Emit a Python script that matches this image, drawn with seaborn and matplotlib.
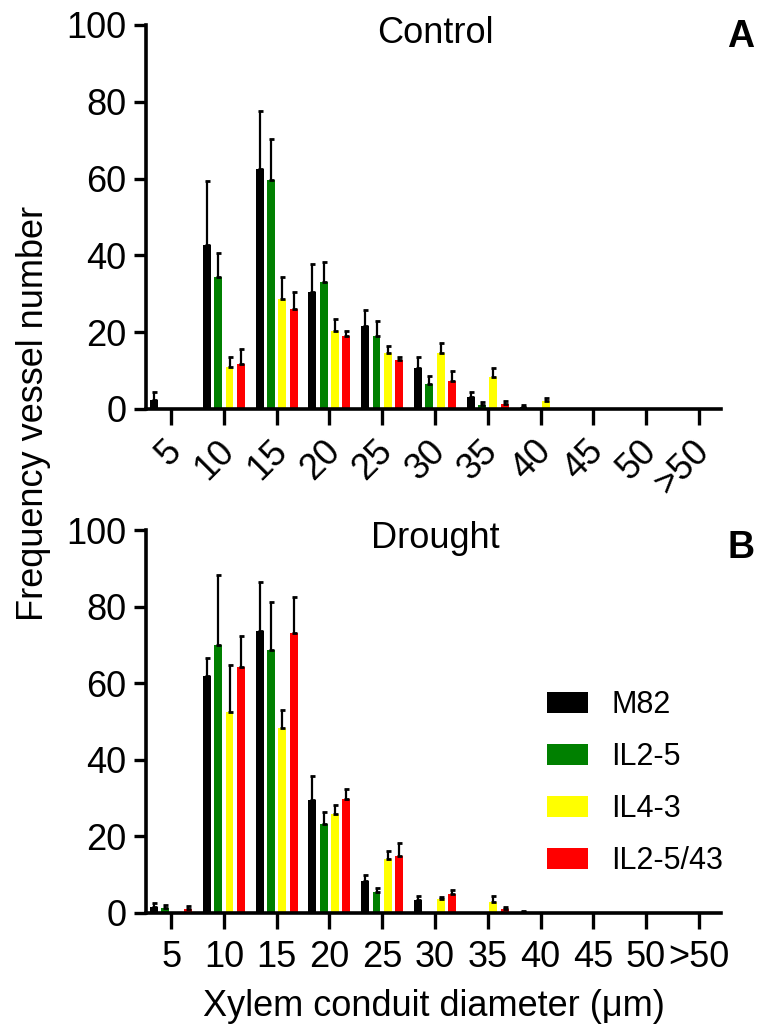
import numpy as np
import pandas as pd
import matplotlib
matplotlib.use("Agg")
import matplotlib.pyplot as plt
import matplotlib.transforms as mtransforms
import seaborn as sns

# ---------------- data ----------------
bins = ["5", "10", "15", "20", "25", "30", "35", "40", "45", "50", ">50"]
lines = ["M82", "IL2-5", "IL4-3", "IL2-5/43"]
colors = ["#000000", "#008000", "#FFFF00", "#FF0000"]

control_m82 = [2.4, 42.6, 62.6, 30.4, 21.7, 10.8, 3.1, 0.4, 0, 0, 0]
control_m82_err = [1.9, 16.8, 15.0, 7.3, 4.0, 2.8, 1.3, 0.6, 0, 0, 0]
control_il25 = [0.2, 34.5, 59.6, 33.0, 19.0, 6.5, 1.0, 0.1, 0, 0, 0]
control_il25_err = [0, 6.2, 10.7, 5.4, 3.9, 2.2, 0.9, 0, 0, 0, 0]
control_il43 = [0.1, 11.0, 28.6, 20.3, 14.6, 14.5, 8.3, 2.2, 0, 0, 0]
control_il43_err = [0, 2.5, 5.7, 3.2, 1.7, 2.6, 2.3, 0.6, 0, 0, 0]
control_il2543 = [0.1, 11.7, 26.1, 19.0, 12.8, 7.4, 1.2, 0, 0, 0, 0]
control_il2543_err = [0, 3.8, 4.3, 1.2, 0.7, 2.5, 0.8, 0, 0, 0, 0]

drought_m82 = [1.6, 62.0, 73.7, 29.6, 8.4, 3.3, 0, 0.3, 0, 0, 0]
drought_m82_err = [1.0, 4.5, 12.6, 6.1, 1.6, 1.2, 0, 0.1, 0, 0, 0]
drought_il25 = [1.2, 70.0, 68.7, 23.3, 5.5, 0, 0, 0.2, 0, 0, 0]
drought_il25_err = [1.0, 18.3, 12.4, 3.2, 1.0, 0, 0, 0, 0, 0, 0]
drought_il43 = [0.2, 52.6, 48.3, 25.8, 14.1, 3.7, 2.9, 0, 0, 0, 0]
drought_il43_err = [0, 12.2, 4.7, 2.3, 2.0, 0.5, 1.5, 0, 0, 0, 0]
drought_il2543 = [1.1, 64.2, 73.0, 29.7, 14.8, 5.0, 1.0, 0, 0, 0, 0]
drought_il2543_err = [0.6, 8.2, 9.6, 2.6, 3.5, 1.1, 0.6, 0, 0, 0, 0]

yticks = [0, 20, 40, 60, 80, 100]

control_means = [control_m82, control_il25, control_il43, control_il2543]
control_errs = [control_m82_err, control_il25_err, control_il43_err, control_il2543_err]
drought_means = [drought_m82, drought_il25, drought_il43, drought_il2543]
drought_errs = [drought_m82_err, drought_il25_err, drought_il43_err, drought_il2543_err]


def make_df(means):
    rows = []
    for line, vals in zip(lines, means):
        for b, v in zip(bins, vals):
            rows.append({"bin": b, "line": line, "value": v})
    return pd.DataFrame(rows)


sns.set_style("ticks")
plt.rcParams["font.family"] = ["Liberation Sans", "DejaVu Sans"]
for k in ["text.color", "axes.labelcolor", "xtick.color", "ytick.color", "axes.edgecolor"]:
    plt.rcParams[k] = "black"

W, H = 758, 1032
fig = plt.figure(figsize=(W / 100, H / 100), dpi=100)


def px_axes(left, top, right, bottom):
    return fig.add_axes([left / W, 1 - bottom / H, (right - left) / W, (bottom - top) / H])


ax1 = px_axes(146, 25, 721, 409)
ax2 = px_axes(146, 530, 721, 913)

palette = dict(zip(lines, colors))

for ax, means, errs, show_leg in [(ax1, control_means, control_errs, False),
                                  (ax2, drought_means, drought_errs, True)]:
    df = make_df(means)
    sns.barplot(data=df, x="bin", y="value", hue="line", order=bins, hue_order=lines,
                palette=palette, errorbar=None, width=0.86, gap=0.3,
                linewidth=0, saturation=1, legend=show_leg, ax=ax)
    # error bars (upper only)
    for cont, err in zip(ax.containers, errs):
        for bar, e in zip(cont, err):
            if e > 0:
                xc = bar.get_x() + bar.get_width() / 2
                ax.errorbar([xc], [bar.get_height()], yerr=[[0], [e]], fmt="none",
                            ecolor="black", elinewidth=1.6, capsize=1.8, capthick=2.0,
                            zorder=1)
    ax.set_ylim(0, 100)
    ax.set_xlim(-0.475, 10.42)
    ax.set_yticks(yticks)
    ax.set_ylabel("")
    ax.set_xlabel("")
    for s in ["top", "right"]:
        ax.spines[s].set_visible(False)
    for s in ["left", "bottom"]:
        ax.spines[s].set_linewidth(2.6)
    ax.tick_params(axis="y", length=9, width=2.4, pad=5, labelsize=26)
    ax.tick_params(axis="x", length=11.5, width=2.4, labelsize=26)

# top panel rotated tick labels
ax1.tick_params(axis="x", pad=15)
offset = mtransforms.ScaledTranslation(5 / 100, 0, fig.dpi_scale_trans)
for lab in ax1.get_xticklabels():
    lab.set_rotation(45)
    lab.set_ha("right")
    lab.set_va("center")
    lab.set_rotation_mode("anchor")
    lab.set_transform(lab.get_transform() + offset)

ax2.tick_params(axis="x", pad=8)

# titles and panel letters
ax1.text(0.504, 0.979, "Control", transform=ax1.transAxes, ha="center", va="center", fontsize=26)
ax2.text(0.504, 0.979, "Drought", transform=ax2.transAxes, ha="center", va="center", fontsize=26)
ax1.text(1.035, 0.969, "A", transform=ax1.transAxes, ha="center", va="center",
         fontsize=27, fontweight="bold")
ax2.text(1.035, 0.953, "B", transform=ax2.transAxes, ha="center", va="center",
         fontsize=27, fontweight="bold")

# axis labels
ax1.set_ylabel("Frequency vessel number", fontsize=26)
ax1.yaxis.set_label_coords((34 - 146) / 575, (409 - 413) / 384)
ax1.yaxis.label.set_va("center")
ax2.set_xlabel("Xylem conduit diameter (\u03bcm)", fontsize=26)
ax2.xaxis.set_label_coords(0.5, (913 - 1007) / 383)
ax2.xaxis.label.set_va("center")

# legend
sns.move_legend(ax2, loc="upper left", bbox_to_anchor=((547 - 146) / 575, (913 - 690) / 383),
                frameon=False, title=None, fontsize=22, handlelength=1.35,
                handleheight=0.66, handletextpad=0.75, labelspacing=0.72,
                borderpad=0, borderaxespad=0)

fig.savefig("out.png", dpi=100)
